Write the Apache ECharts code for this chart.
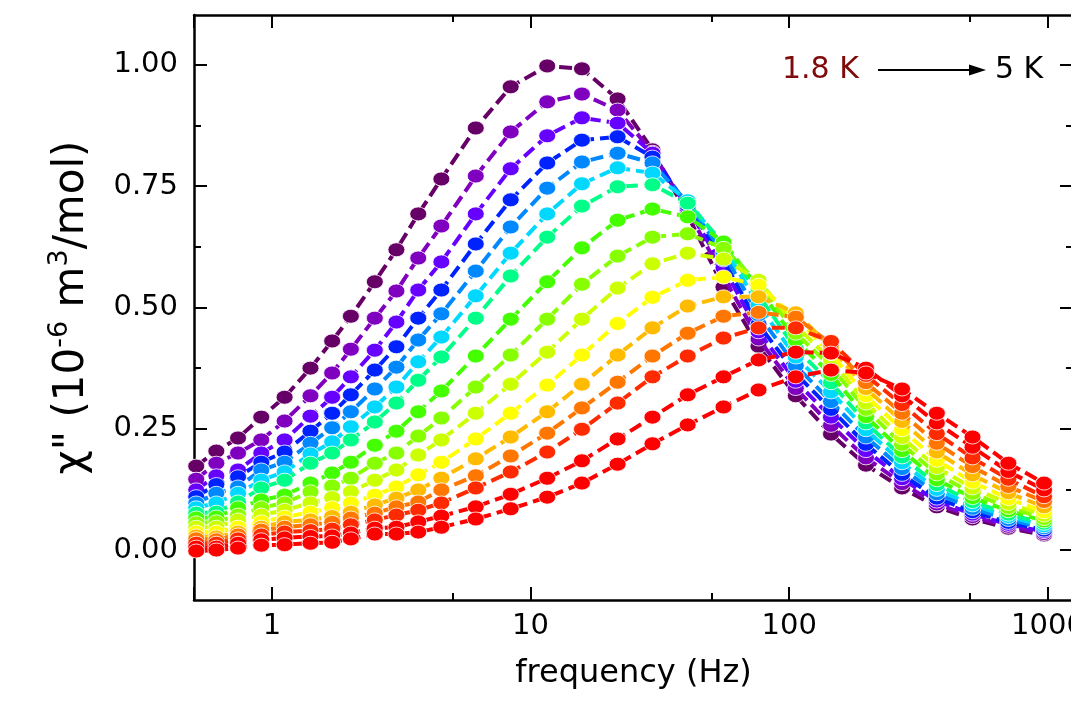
<!DOCTYPE html>
<html><head><meta charset="utf-8">
<script src="https://cdn.jsdelivr.net/npm/echarts@6/dist/echarts.min.js"></script>
<style>html,body{margin:0;padding:0;background:#fff;overflow:hidden}#c{width:1071px;height:706px}</style>
</head><body><div id="c"></div>
<script>
// frequency (Hz)
const frequencies = [0.51, 0.61, 0.74, 0.91, 1.12, 1.41, 1.71, 2.02, 2.5, 3.03, 3.68, 4.52, 6.14, 8.38, 11.6, 15.8, 21.7, 29.6, 40.5, 55.7, 76.1, 106, 145, 198, 273, 372, 511, 703, 966];

// chi'' values, lowest temperature (1.8 K) first, highest (5 K) last
const s01 = [0.173,0.204,0.231,0.274,0.315,0.375,0.431,0.482,0.553,0.619,0.693,0.765,0.870,0.955,0.998,0.992,0.930,0.825,0.690,0.542,0.420,0.318,0.239,0.175,0.128,0.089,0.064,0.045,0.031];
const s02 = [0.146,0.179,0.200,0.227,0.266,0.318,0.365,0.414,0.478,0.534,0.602,0.668,0.771,0.862,0.924,0.940,0.907,0.820,0.700,0.563,0.435,0.333,0.257,0.190,0.137,0.095,0.069,0.049,0.034];
const s03 = [0.124,0.153,0.165,0.200,0.227,0.276,0.315,0.357,0.412,0.470,0.536,0.594,0.693,0.786,0.854,0.891,0.880,0.818,0.705,0.582,0.450,0.348,0.274,0.205,0.147,0.101,0.074,0.053,0.038];
const s04 = [0.110,0.135,0.151,0.181,0.202,0.245,0.282,0.320,0.371,0.419,0.478,0.536,0.631,0.722,0.798,0.845,0.852,0.810,0.710,0.598,0.465,0.364,0.290,0.218,0.156,0.107,0.079,0.057,0.041];
const s05 = [0.097,0.117,0.130,0.165,0.181,0.220,0.252,0.285,0.332,0.377,0.433,0.487,0.575,0.666,0.746,0.800,0.818,0.798,0.715,0.612,0.485,0.380,0.306,0.233,0.168,0.116,0.086,0.063,0.046];
const s06 = [0.087,0.097,0.117,0.144,0.161,0.198,0.223,0.254,0.295,0.336,0.388,0.439,0.524,0.612,0.693,0.755,0.788,0.777,0.720,0.625,0.505,0.398,0.326,0.248,0.180,0.125,0.093,0.069,0.050];
const s07 = [0.076,0.078,0.099,0.128,0.144,0.179,0.200,0.227,0.264,0.303,0.350,0.398,0.478,0.565,0.645,0.709,0.749,0.753,0.715,0.632,0.525,0.415,0.345,0.262,0.192,0.135,0.100,0.074,0.055];
const s08 = [0.066,0.068,0.087,0.103,0.113,0.138,0.159,0.181,0.216,0.245,0.285,0.328,0.400,0.476,0.553,0.623,0.680,0.703,0.687,0.635,0.540,0.432,0.362,0.275,0.205,0.145,0.108,0.081,0.060];
const s09 = [0.056,0.058,0.072,0.087,0.097,0.120,0.132,0.148,0.179,0.200,0.235,0.272,0.336,0.402,0.476,0.548,0.606,0.645,0.652,0.622,0.550,0.447,0.378,0.290,0.218,0.157,0.117,0.088,0.065];
const s10 = [0.047,0.047,0.062,0.072,0.082,0.097,0.108,0.120,0.144,0.165,0.196,0.227,0.282,0.342,0.408,0.476,0.540,0.590,0.612,0.600,0.556,0.462,0.392,0.303,0.232,0.170,0.128,0.096,0.072];
const s11 = [0.037,0.037,0.047,0.058,0.068,0.078,0.087,0.097,0.113,0.130,0.155,0.181,0.229,0.282,0.340,0.402,0.467,0.521,0.556,0.563,0.546,0.478,0.405,0.318,0.248,0.185,0.140,0.106,0.079];
const s12 = [0.029,0.027,0.037,0.047,0.058,0.062,0.069,0.078,0.093,0.107,0.124,0.148,0.188,0.233,0.285,0.342,0.402,0.458,0.503,0.522,0.522,0.489,0.418,0.333,0.265,0.202,0.155,0.118,0.089];
const s13 = [0.023,0.021,0.031,0.041,0.047,0.052,0.057,0.066,0.076,0.089,0.099,0.124,0.153,0.194,0.241,0.293,0.346,0.400,0.447,0.482,0.490,0.480,0.425,0.345,0.282,0.220,0.172,0.131,0.100];
const s14 = [0.014,0.014,0.023,0.031,0.037,0.040,0.043,0.052,0.062,0.072,0.082,0.097,0.128,0.161,0.202,0.249,0.303,0.357,0.400,0.437,0.458,0.458,0.430,0.360,0.300,0.240,0.190,0.146,0.110];
const s15 = [0.006,0.006,0.014,0.021,0.025,0.028,0.029,0.035,0.045,0.047,0.058,0.070,0.089,0.115,0.148,0.184,0.229,0.274,0.320,0.357,0.392,0.408,0.406,0.375,0.318,0.262,0.212,0.162,0.124];
const s16 = [-0.002,0.000,0.004,0.010,0.011,0.014,0.016,0.023,0.033,0.033,0.037,0.047,0.064,0.085,0.109,0.138,0.177,0.219,0.258,0.295,0.330,0.357,0.371,0.365,0.332,0.282,0.233,0.179,0.138];

const seriesValues = [s01,s02,s03,s04,s05,s06,s07,s08,s09,s10,s11,s12,s13,s14,s15,s16];
const seriesColors = ['#660066','#8000c0','#6600ff','#0022ff','#0088ff','#00d8ff','#00ff88','#44ff00','#88ff00','#ccff00','#ffff00','#ffbb00','#ff7700','#ff2a00','#ff0000','#ff0000'];

const xMajorTicks = [1, 10, 100, 1000];
const xMinorTicks = [5, 50, 500];
const yMajorTicks = [0, 0.25, 0.5, 0.75, 1.0];
const yMinorTicks = [0.125, 0.375, 0.625, 0.875];

const FONT = 'DejaVu Sans';
const X_MIN = 0.5, X_MAX = 1250, Y_MIN = -0.103, Y_MAX = 1.103;

const chart = echarts.init(document.getElementById('c'), null, {renderer: 'canvas'});

const ellipse = 'path://M0,10a10,10 0 1,0 20,0a10,10 0 1,0 -20,0';

const series = seriesValues.map((vals, k) => ({
  type: 'line',
  name: 'T' + (k + 1),
  xAxisIndex: 0, yAxisIndex: 0,
  data: frequencies.map((f, i) => [f, vals[i]]),
  symbol: ellipse,
  symbolSize: [17, 14],
  showAllSymbol: true,
  lineStyle: {color: seriesColors[k], width: 4, type: [13, 6]},
  itemStyle: {color: seriesColors[k], borderColor: '#ffffff', borderWidth: 0.8},
  emphasis: {disabled: true},
  z: 2 + k * 0.01,
  animation: false
}));

const logMin = Math.log10(X_MIN), logMax = Math.log10(X_MAX);
const axisLineStyle = {show: true, onZero: false, lineStyle: {color: '#000', width: 2.5}};
const noLine = {show: false, onZero: false};

chart.setOption({
  animation: false,
  backgroundColor: '#fff',
  grid: {left: 194, right: -2, top: 15, bottom: 106, containLabel: false, outerBoundsMode: 'none'},
  xAxis: [
    {type: 'log', position: 'bottom', min: X_MIN, max: X_MAX, logBase: 10,
     axisLine: axisLineStyle,
     axisTick: {show: true, inside: true, length: 13, lineStyle: {color: '#000', width: 2}},
     axisLabel: {show: true, fontFamily: FONT, fontSize: 29, color: '#000', margin: 12,
       formatter: v => (xMajorTicks.indexOf(Math.round(v)) >= 0 && Math.abs(v - Math.round(v)) < 1e-6) ? String(Math.round(v)) : ''},
     splitLine: {show: false},
     name: 'frequency (Hz)', nameLocation: 'middle', nameGap: 58,
     nameTextStyle: {fontFamily: FONT, fontSize: 32, color: '#000'}},
    {type: 'value', position: 'bottom', min: logMin, max: logMax,
     axisLine: noLine,
     axisTick: {show: true, inside: true, length: 7, customValues: xMinorTicks.map(Math.log10), lineStyle: {color: '#000', width: 2}},
     axisLabel: {show: false}, splitLine: {show: false}},
    {type: 'log', position: 'top', min: X_MIN, max: X_MAX, logBase: 10,
     axisLine: axisLineStyle,
     axisTick: {show: true, inside: true, length: 13, lineStyle: {color: '#000', width: 2}},
     axisLabel: {show: false}, splitLine: {show: false}},
    {type: 'value', position: 'top', min: logMin, max: logMax,
     axisLine: noLine,
     axisTick: {show: true, inside: true, length: 7, customValues: xMinorTicks.map(Math.log10), lineStyle: {color: '#000', width: 2}},
     axisLabel: {show: false}, splitLine: {show: false}}
  ],
  yAxis: [
    {type: 'value', position: 'left', min: Y_MIN, max: Y_MAX,
     axisLine: axisLineStyle,
     axisTick: {show: true, inside: true, length: 13, customValues: yMajorTicks, lineStyle: {color: '#000', width: 2}},
     axisLabel: {show: true, customValues: yMajorTicks, fontFamily: FONT, fontSize: 29, color: '#000', margin: 16,
       formatter: v => v.toFixed(2)},
     splitLine: {show: false},
     name: '{a|χ" (10}{b|-6}{a| m}{b|3}{a|/mol)}', nameLocation: 'middle', nameRotate: 90, nameGap: 96,
     nameTextStyle: {color: '#000', rich: {
       a: {fontFamily: FONT, fontSize: 42, color: '#000', lineHeight: 52},
       b: {fontFamily: FONT, fontSize: 27, color: '#000', verticalAlign: 'top'}}}},
    {type: 'value', position: 'left', min: Y_MIN, max: Y_MAX,
     axisLine: noLine,
     axisTick: {show: true, inside: true, length: 7, customValues: yMinorTicks, lineStyle: {color: '#000', width: 2}},
     axisLabel: {show: false}, splitLine: {show: false}},
    {type: 'value', position: 'right', min: Y_MIN, max: Y_MAX,
     axisLine: axisLineStyle,
     axisTick: {show: true, inside: true, length: 13, customValues: yMajorTicks, lineStyle: {color: '#000', width: 2}},
     axisLabel: {show: false}, splitLine: {show: false}},
    {type: 'value', position: 'right', min: Y_MIN, max: Y_MAX,
     axisLine: noLine,
     axisTick: {show: true, inside: true, length: 7, customValues: yMinorTicks, lineStyle: {color: '#000', width: 2}},
     axisLabel: {show: false}, splitLine: {show: false}}
  ],
  graphic: [
    {type: 'text', left: 782, top: 55, z: 100,
     style: {text: '1.8 K', fill: '#7f0a0a', fontFamily: FONT, fontSize: 30}},
    {type: 'line', z: 100, shape: {x1: 878, y1: 70, x2: 972, y2: 70}, style: {stroke: '#000', lineWidth: 2}},
    {type: 'polygon', z: 100, shape: {points: [[986, 70], [969, 64.5], [969, 75.5]]}, style: {fill: '#000'}},
    {type: 'text', left: 995, top: 55, z: 100,
     style: {text: '5 K', fill: '#000', fontFamily: FONT, fontSize: 30}}
  ],
  series: series
});
</script>
</body></html>
